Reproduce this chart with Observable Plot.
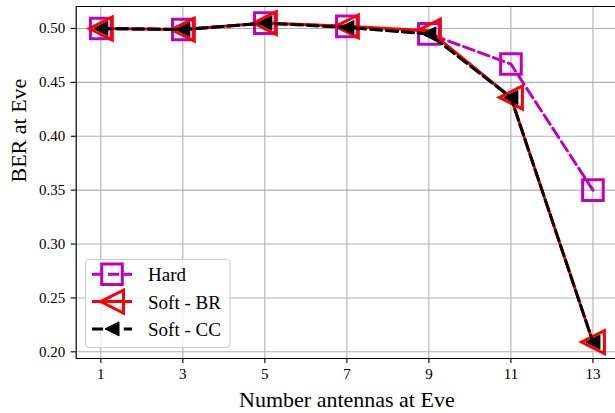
<!DOCTYPE html>
<html>
<head>
<meta charset="utf-8">
<script src="https://cdn.jsdelivr.net/npm/d3@7"></script>
<script src="https://cdn.jsdelivr.net/npm/@observablehq/plot@0.6"></script>
<style>
  html, body { margin: 0; padding: 0; background: white; }
  #chart { width: 615px; height: 413px; overflow: hidden; }
  #chart svg text { font-family: 'Liberation Serif', 'Times New Roman', serif; }
</style>
</head>
<body>
<div id="chart"></div>
<script>
// ---- data ----
const antennas = [1, 3, 5, 7, 9, 11, 13];
const berHard   = [0.500, 0.499, 0.505, 0.502, 0.495, 0.467, 0.350];
const berSoftBR = [0.500, 0.499, 0.505, 0.502, 0.498, 0.436, 0.209];
const berSoftCC = [0.500, 0.499, 0.505, 0.501, 0.495, 0.436, 0.209];
const seriesNames = ["Hard", "Soft - BR", "Soft - CC"];
const xTicks = [1, 3, 5, 7, 9, 11, 13];
const yTicks = [0.20, 0.25, 0.30, 0.35, 0.40, 0.45, 0.50];
const xLabel = "Number antennas at Eve";
const yLabel = "BER at Eve";

const xDomain = [0.4, 13.55];
const yDomain = [0.1938, 0.5204];

// ---- matplotlib-like marker symbols ----
const squareSym = {
  draw(ctx, size) {
    const r = Math.sqrt(size / Math.PI);
    ctx.moveTo(-r, -r); ctx.lineTo(r, -r); ctx.lineTo(r, r); ctx.lineTo(-r, r); ctx.closePath();
  }
};
const triLeftSym = {
  draw(ctx, size) {
    const r = Math.sqrt(size / Math.PI);
    ctx.moveTo(-r, 0); ctx.lineTo(r, -r); ctx.lineTo(r, r); ctx.closePath();
  }
};

const mk = (ys) => antennas.map((x, i) => ({x, y: ys[i]}));
const dHard = mk(berHard), dBR = mk(berSoftBR), dCC = mk(berSoftCC);

const styles = [
  {stroke: "#bf00bf", dash: "11.1,4.8", sym: squareSym, r: 10.3, fill: "none", sw: 3},
  {stroke: "#ff0000", dash: null, sym: triLeftSym, r: 11.5, fill: "none", sw: 3},
  {stroke: "#000000", dash: "11.1,4.8", sym: triLeftSym, r: 7, fill: "#000000", sw: 1}
];

const seriesMarks = [dHard, dBR, dCC].flatMap((d, i) => {
  const s = styles[i];
  return [
    Plot.line(d, {x: "x", y: "y", stroke: s.stroke, strokeWidth: 3,
      strokeDasharray: s.dash || undefined, strokeLinejoin: "round"}),
    Plot.dot(d, {x: "x", y: "y", symbol: s.sym, r: s.r, stroke: s.stroke,
      fill: s.fill, strokeWidth: s.sw, strokeLinejoin: "miter"})
  ];
});

const font = "'Liberation Serif', 'Times New Roman', serif";

const svg = Plot.plot({
  width: 615,
  height: 413,
  marginLeft: 75.7,
  marginRight: 0,
  marginTop: 6,
  marginBottom: 55,
  x: {domain: xDomain},
  y: {domain: yDomain},
  style: {fontFamily: font, background: "white", color: "black", overflow: "hidden"},
  marks: [
    Plot.gridX(xTicks, {stroke: "#b0b0b0", strokeOpacity: 1, strokeWidth: 1.1}),
    Plot.gridY(yTicks, {stroke: "#b0b0b0", strokeOpacity: 1, strokeWidth: 1.1}),
    ...seriesMarks,
    Plot.ruleX([xDomain[0]], {stroke: "black", strokeWidth: 1.2}),
    Plot.ruleY([yDomain[0], yDomain[1]], {stroke: "black", strokeWidth: 1.2}),
    Plot.axisX({ticks: xTicks, tickSize: 5, tickPadding: 5, fontSize: 15, label: null,
      fontFamily: font, strokeWidth: 1.1, tickFormat: d3.format("d")}),
    Plot.axisY({ticks: yTicks, tickSize: 5, tickPadding: 6, fontSize: 15, label: null,
      fontFamily: font, strokeWidth: 1.1, tickFormat: d3.format(".2f")}),
    Plot.text([xLabel], {frameAnchor: "bottom", lineAnchor: "middle", dy: 41, dx: 1, fontSize: 22}),
    Plot.text([yLabel], {frameAnchor: "left", lineAnchor: "middle", rotate: -90, dx: -57.7, fontSize: 22})
  ]
});

// ---- legend ----
const g = d3.select(svg).append("g").attr("font-family", font).attr("text-anchor", "start");
g.append("rect")
  .attr("x", 85.5).attr("y", 259.5).attr("width", 144.5).attr("height", 88)
  .attr("rx", 4).attr("fill", "white").attr("fill-opacity", 0.8)
  .attr("stroke", "#cccccc").attr("stroke-width", 1.1);
const rowY = [274.3, 301.6, 328.9];
seriesNames.forEach((name, i) => {
  const s = styles[i];
  const y = rowY[i];
  g.append("line").attr("x1", 92).attr("x2", 132).attr("y1", y).attr("y2", y)
    .attr("stroke", s.stroke).attr("stroke-width", 3)
    .attr("stroke-dasharray", s.dash);
  g.append("path")
    .attr("d", d3.symbol().type(s.sym).size(Math.PI * s.r * s.r)())
    .attr("transform", `translate(112,${y})`)
    .attr("fill", s.fill).attr("stroke", s.stroke).attr("stroke-width", s.sw)
    .attr("stroke-linejoin", "miter");
  g.append("text").attr("x", 148).attr("y", y + 7)
    .attr("text-anchor", "start")
    .attr("font-size", 19).attr("fill", "black").text(name);
});

document.getElementById("chart").appendChild(svg);
</script>
</body>
</html>
